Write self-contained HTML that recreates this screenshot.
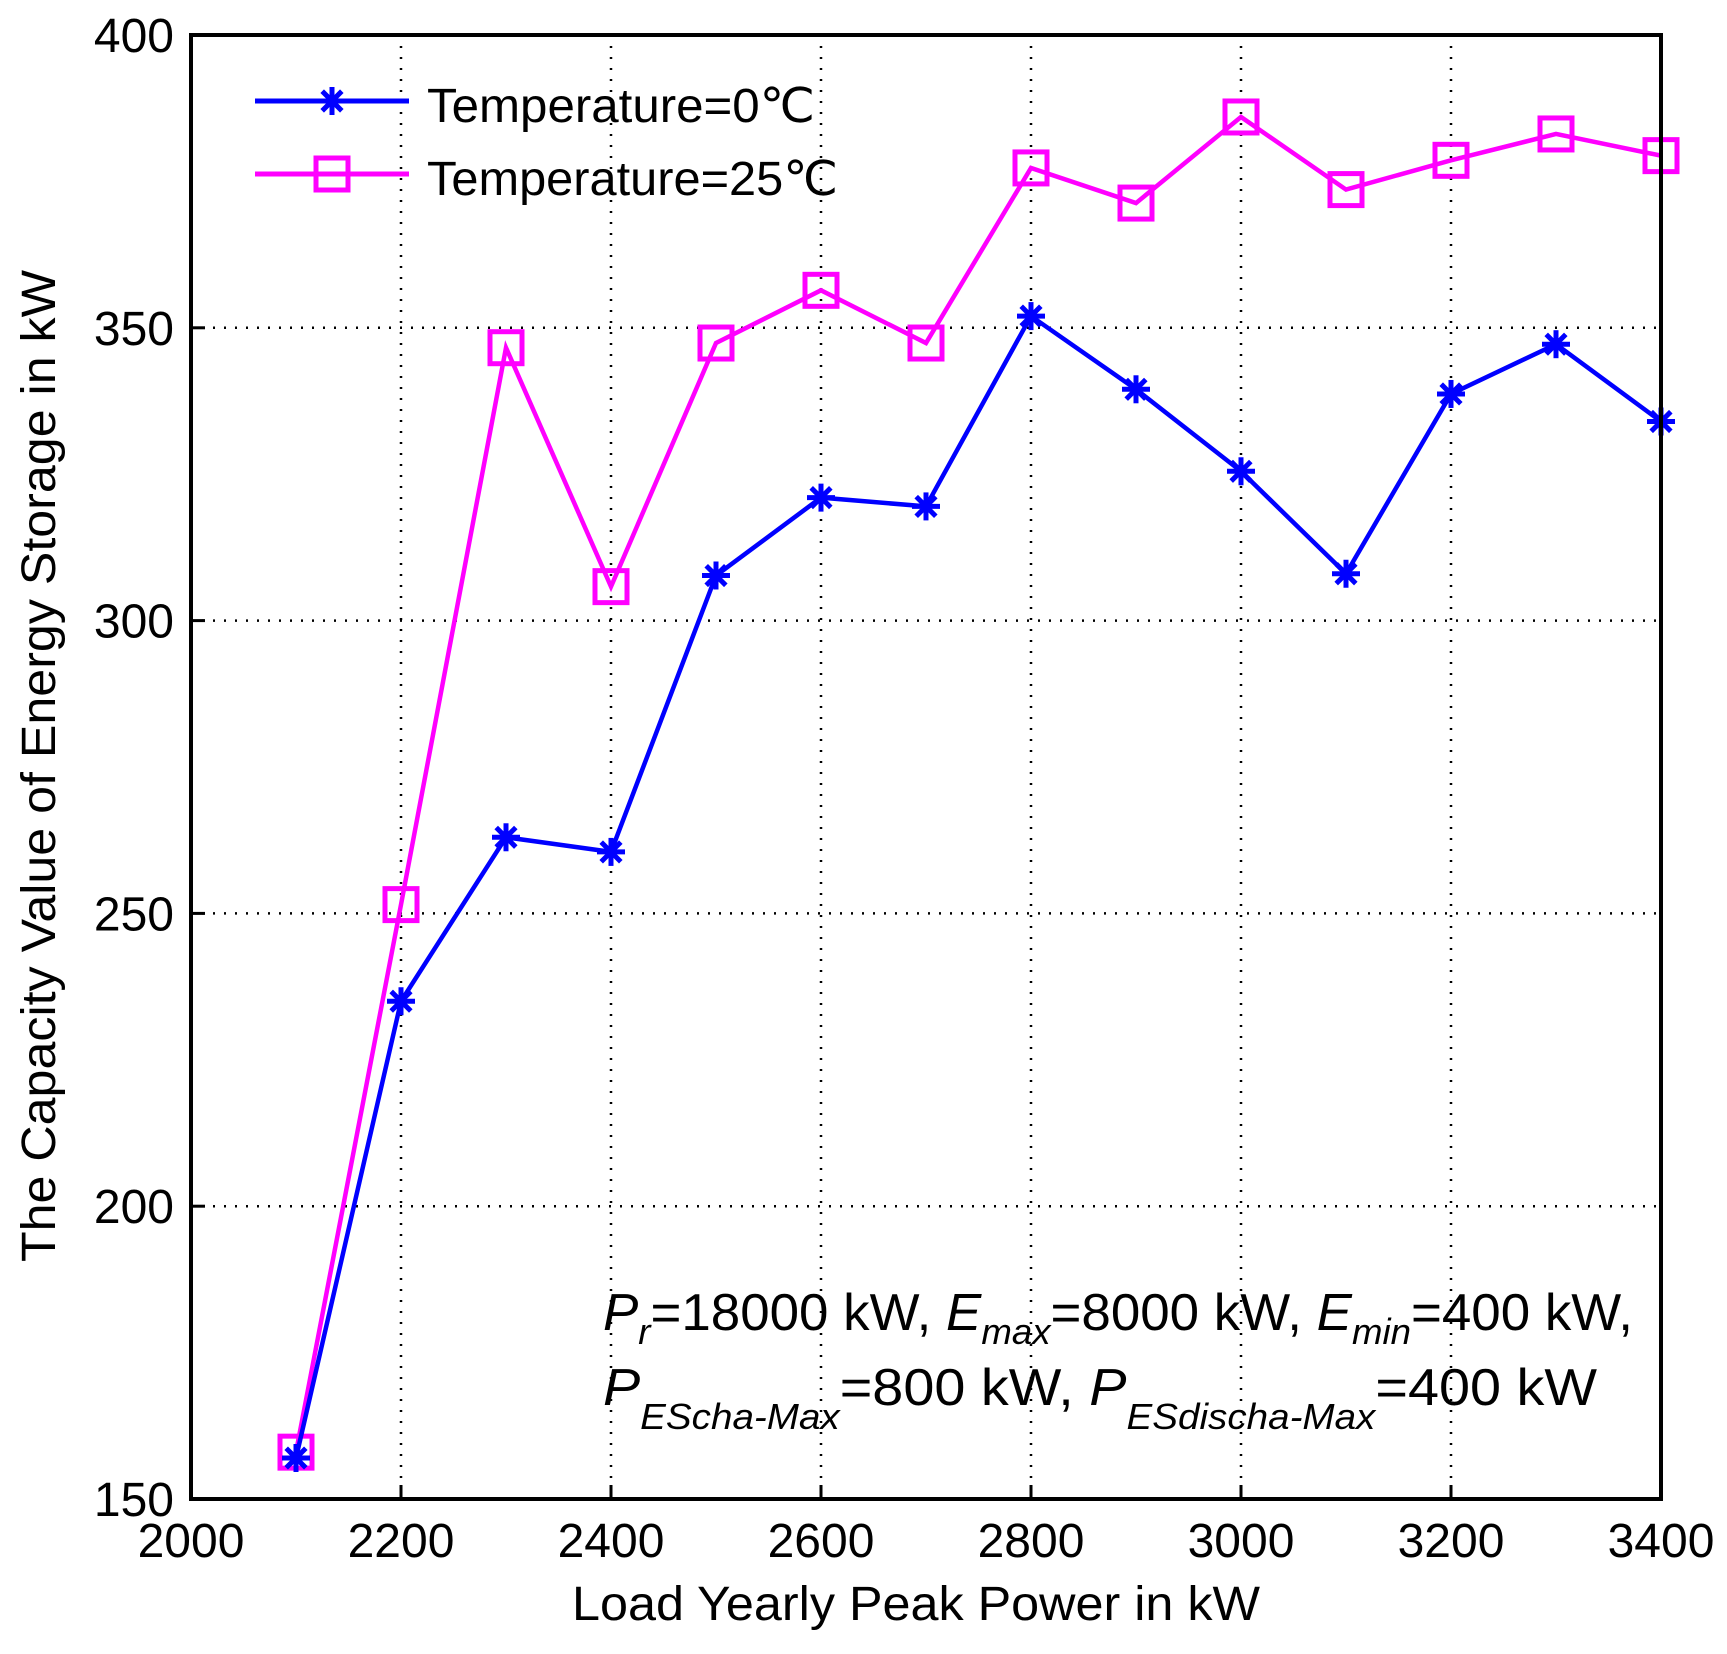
<!DOCTYPE html>
<html><head><meta charset="utf-8"><style>
html,body{margin:0;padding:0;background:#fff}
svg{display:block}
text{font-family:"Liberation Sans","DejaVu Sans",sans-serif;fill:#000}
</style></head><body>
<svg id="chart" width="1727" height="1654" viewBox="0 0 1727 1654" xmlns="http://www.w3.org/2000/svg">
<rect x="0" y="0" width="1727" height="1654" fill="#fff"/>
<g id="grid"></g>
<g id="series"></g>
<rect x="191" y="35" width="1470" height="1464" fill="none" stroke="#000" stroke-width="4"/>
<g id="ticks"></g>
<text x="572" y="1620" font-size="48" textLength="688" lengthAdjust="spacingAndGlyphs">Load Yearly Peak Power in kW</text>
<text transform="translate(55,1262) rotate(-90)" font-size="48" textLength="992" lengthAdjust="spacingAndGlyphs">The Capacity Value of Energy Storage in kW</text>
<g>
  <g>
    <line x1="255" y1="101" x2="409" y2="101" stroke="#0000ff" stroke-width="5"/>
    <g id="legstar"></g>
    <text x="427" y="122" font-size="48" textLength="388" lengthAdjust="spacingAndGlyphs">Temperature=0℃</text>
  </g>
  <g>
    <line x1="255" y1="174" x2="409" y2="174" stroke="#ff00ff" stroke-width="5"/>
    <rect x="316" y="158" width="32" height="32" fill="none" stroke="#ff00ff" stroke-width="5"/>
    <text x="427" y="195" font-size="48" textLength="411" lengthAdjust="spacingAndGlyphs">Temperature=25℃</text>
  </g>
</g>
<g font-size="52">
  <text x="603" y="1330" textLength="1030" lengthAdjust="spacingAndGlyphs"><tspan font-style="italic">P</tspan><tspan font-style="italic" font-size="36" dy="14">r</tspan><tspan dy="-14">=18000 kW, </tspan><tspan font-style="italic">E</tspan><tspan font-style="italic" font-size="36" dy="14">max</tspan><tspan dy="-14">=8000 kW, </tspan><tspan font-style="italic">E</tspan><tspan font-style="italic" font-size="36" dy="14">min</tspan><tspan dy="-14">=400 kW,</tspan></text>
  <text x="603" y="1405" textLength="994" lengthAdjust="spacingAndGlyphs"><tspan font-style="italic">P</tspan><tspan font-style="italic" font-size="36" dy="24">EScha-Max</tspan><tspan dy="-24">=800 kW, </tspan><tspan font-style="italic">P</tspan><tspan font-style="italic" font-size="36" dy="24">ESdischa-Max</tspan><tspan dy="-24">=400 kW</tspan></text>
</g>
</svg>
<script>
const categories = [2100,2200,2300,2400,2500,2600,2700,2800,2900,3000,3100,3200,3300,3400];
const temp0Values = [157,235,263,260.5,307.7,321,319.5,352,339.5,325.5,308,338.7,347.2,334];
const temp25Values = [158,251.5,346.6,305.8,347.4,356.4,347.4,377.3,371.3,386,373.6,378.6,383.1,379.4];
const xTicks = [2000,2200,2400,2600,2800,3000,3200,3400];
const yTicks = [150,200,250,300,350,400];

const NS="http://www.w3.org/2000/svg";
const L=191,R=1661,T=35,B=1499;
function xs(v){return L+(v-2000)/(3400-2000)*(R-L);}
function ys(v){return B-(v-150)/(400-150)*(B-T);}
function mk(tag,attrs,parent){const e=document.createElementNS(NS,tag);for(const k in attrs)e.setAttribute(k,attrs[k]);parent.appendChild(e);return e;}
const grid=document.getElementById('grid'),ticks=document.getElementById('ticks'),series=document.getElementById('series');
xTicks.forEach(t=>{
  const g=mk('line',{x1:xs(t),x2:xs(t),y1:T,y2:B,stroke:'#000','stroke-width':2.5,'stroke-dasharray':'2 9'},grid);
  
  
  mk('line',{x1:xs(t),x2:xs(t),y1:B,y2:B-14,stroke:'#000','stroke-width':3},grid);
  const tx=mk('text',{x:xs(t),y:1557,'font-size':48,'text-anchor':'middle'},ticks);
  tx.textContent=t;
  
  
});
yTicks.forEach(t=>{
  const g=mk('line',{x1:L,x2:R,y1:ys(t),y2:ys(t),stroke:'#000','stroke-width':2.5,'stroke-dasharray':'2 9'},grid);
  
  
  mk('line',{x1:L,x2:L+14,y1:ys(t),y2:ys(t),stroke:'#000','stroke-width':3},grid);
  const tx=mk('text',{x:174,y:ys(t)+17,'font-size':48,'text-anchor':'end'},ticks);
  tx.textContent=t;
  
  
});
function star(cx,cy,parent,name){
  const g=mk('g',{stroke:'#0000ff','stroke-width':5,fill:'none'},parent);
  
  
  const r=14;
  mk('line',{x1:cx,y1:cy-r,x2:cx,y2:cy+r},g);
  mk('line',{x1:cx-r,y1:cy,x2:cx+r,y2:cy},g);
  mk('line',{x1:cx-r*0.7,y1:cy-r*0.7,x2:cx+r*0.7,y2:cy+r*0.7},g);
  mk('line',{x1:cx-r*0.7,y1:cy+r*0.7,x2:cx+r*0.7,y2:cy-r*0.7},g);
}
const p25=categories.map((c,i)=>xs(c)+','+ys(temp25Values[i])).join(' ');
const l25=mk('polyline',{points:p25,fill:'none',stroke:'#ff00ff','stroke-width':4.5},series);


categories.forEach((c,i)=>{
  const m=mk('rect',{x:xs(c)-16,y:ys(temp25Values[i])-16,width:32,height:32,fill:'none',stroke:'#ff00ff','stroke-width':5},series);
  
  
});
const p0=categories.map((c,i)=>xs(c)+','+ys(temp0Values[i])).join(' ');
const l0=mk('polyline',{points:p0,fill:'none',stroke:'#0000ff','stroke-width':4.5},series);


categories.forEach((c,i)=>star(xs(c),ys(temp0Values[i]),series,'marker-0c'));
star(332,101,document.getElementById('legstar'),'legend-star');
</script>
</body></html>
